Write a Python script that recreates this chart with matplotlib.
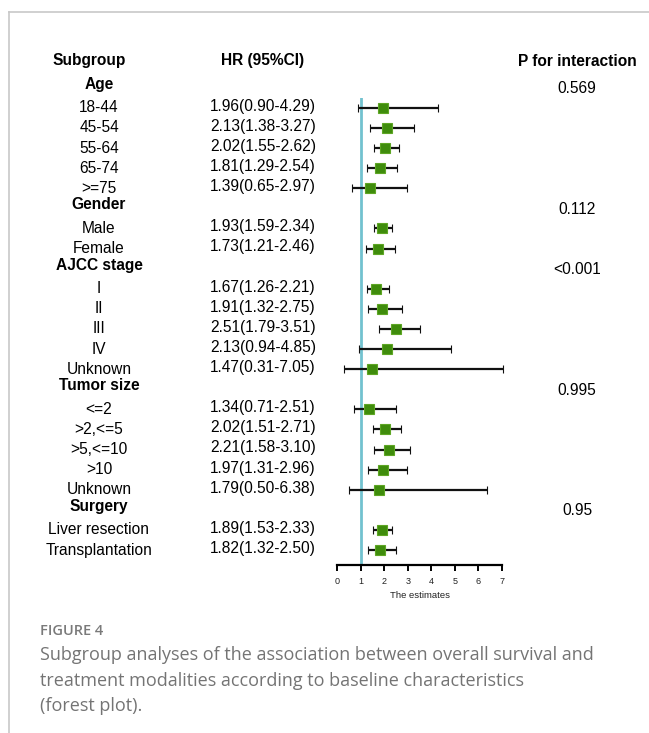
import matplotlib
matplotlib.use("Agg")
import matplotlib.pyplot as plt
from matplotlib.transforms import blended_transform_factory
from matplotlib.lines import Line2D

plt.rcParams['font.family'] = ['Liberation Sans', 'DejaVu Sans']

# ---- data ----
groups = ["Age", "Gender", "AJCC stage", "Tumor size", "Surgery"]
group_p = ["0.569", "0.112", "<0.001", "0.995", "0.95"]
subgroups = [
    ["18-44", "45-54", "55-64", "65-74", ">=75"],
    ["Male", "Female"],
    ["I", "II", "III", "IV", "Unknown"],
    ["<=2", ">2,<=5", ">5,<=10", ">10", "Unknown"],
    ["Liver resection", "Transplantation"],
]
hr = [
    [1.96, 2.13, 2.02, 1.81, 1.39],
    [1.93, 1.73],
    [1.67, 1.91, 2.51, 2.13, 1.47],
    [1.34, 2.02, 2.21, 1.97, 1.79],
    [1.89, 1.82],
]
lo = [
    [0.90, 1.38, 1.55, 1.29, 0.65],
    [1.59, 1.21],
    [1.26, 1.32, 1.79, 0.94, 0.31],
    [0.71, 1.51, 1.58, 1.31, 0.50],
    [1.53, 1.32],
]
hi = [
    [4.29, 3.27, 2.62, 2.54, 2.97],
    [2.34, 2.46],
    [2.21, 2.75, 3.51, 4.85, 7.05],
    [2.51, 2.71, 3.10, 2.96, 6.38],
    [2.33, 2.50],
]
xticks = [0, 1, 2, 3, 4, 5, 6, 7]

W, H = 649, 733
fig = plt.figure(figsize=(W / 100, H / 100), dpi=100)

# frame lines (page box)
fig.add_artist(Line2D([9 / W, 9 / W], [0, 1 - 12 / H], transform=fig.transFigure,
                      color="#c8c8c8", lw=1.2))
fig.add_artist(Line2D([9 / W, 1], [1 - 12 / H, 1 - 12 / H], transform=fig.transFigure,
                      color="#c8c8c8", lw=1.2))

# forest axes
x0, x1 = 337, 502
ytop, ybot = 98, 565
ax = fig.add_axes([x0 / W, 1 - ybot / H, (x1 - x0) / W, (ybot - ytop) / H])
row0, dr = 87.8, 20.1
ax.set_xlim(0, 7)
ax.set_ylim((ybot - row0) / dr, (ytop - row0) / dr)

for s in ["top", "right", "left"]:
    ax.spines[s].set_visible(False)
ax.spines["bottom"].set_linewidth(1.6)
ax.set_yticks([])
ax.set_xticks(xticks)
ax.tick_params(axis="x", direction="out", length=4, width=1.4, labelsize=6.5, pad=5,
               labelcolor="#222222")
ax.set_xlabel("The estimates", fontsize=6.8, labelpad=3, color="#222222")
ax.axvline(1, color="#72c2cf", lw=2, zorder=1)

tr = blended_transform_factory(fig.transFigure, ax.transData)
fs = 11.2
left_c = 99 / W
hr_c = 263 / W
p_c = 577 / W

hdr_y = (61 - row0) / dr
ax.text(89 / W, hdr_y, "Subgroup", transform=tr, ha="center", va="center",
        fontsize=fs, fontweight="bold", clip_on=False)
ax.text(hr_c, hdr_y, "HR (95%CI)", transform=tr, ha="center", va="center",
        fontsize=fs, fontweight="bold", clip_on=False)
ax.text(p_c, hdr_y, "P for interaction", transform=tr, ha="center", va="center",
        fontsize=fs, fontweight="bold", clip_on=False)

i = 0
for g, name in enumerate(groups):
    ax.text(left_c, i - 0.17, name, transform=tr, ha="center", va="center",
            fontsize=fs, fontweight="bold", clip_on=False)
    ax.text(p_c, i + 0.05, group_p[g], transform=tr, ha="center", va="center",
            fontsize=fs, clip_on=False)
    i += 1
    for k, sub in enumerate(subgroups[g]):
        ax.text(left_c, i, sub, transform=tr, ha="center", va="center",
                fontsize=fs, clip_on=False)
        ax.text(hr_c, i - 0.08, f"{hr[g][k]:.2f}({lo[g][k]:.2f}-{hi[g][k]:.2f})",
                transform=tr, ha="center", va="center", fontsize=fs, clip_on=False)
        ax.errorbar(hr[g][k], i, xerr=[[hr[g][k] - lo[g][k]], [hi[g][k] - hr[g][k]]],
                    fmt="s", color="#111111", ecolor="#111111", elinewidth=1.6,
                    capsize=3.2, capthick=1.6, markersize=7.8,
                    markerfacecolor="#3f8c0c", markeredgecolor="#5ea624",
                    markeredgewidth=0.8, zorder=3, clip_on=False)
        i += 1

# caption
fig.text(40 / W, 1 - 631 / H, "FIGURE 4", fontsize=10.5, color="#7a7a7a",
         family=["Open Sans", "DejaVu Sans"], fontweight="semibold", va="center")
cap = ["Subgroup analyses of the association between overall survival and",
       "treatment modalities according to baseline characteristics",
       "(forest plot)."]
for n, line in enumerate(cap):
    fig.text(40 / W, 1 - (655 + 25.5 * n) / H, line, fontsize=13.0, color="#747474",
             family=["Open Sans", "DejaVu Sans"], va="center")

fig.savefig("out.png", dpi=100)
